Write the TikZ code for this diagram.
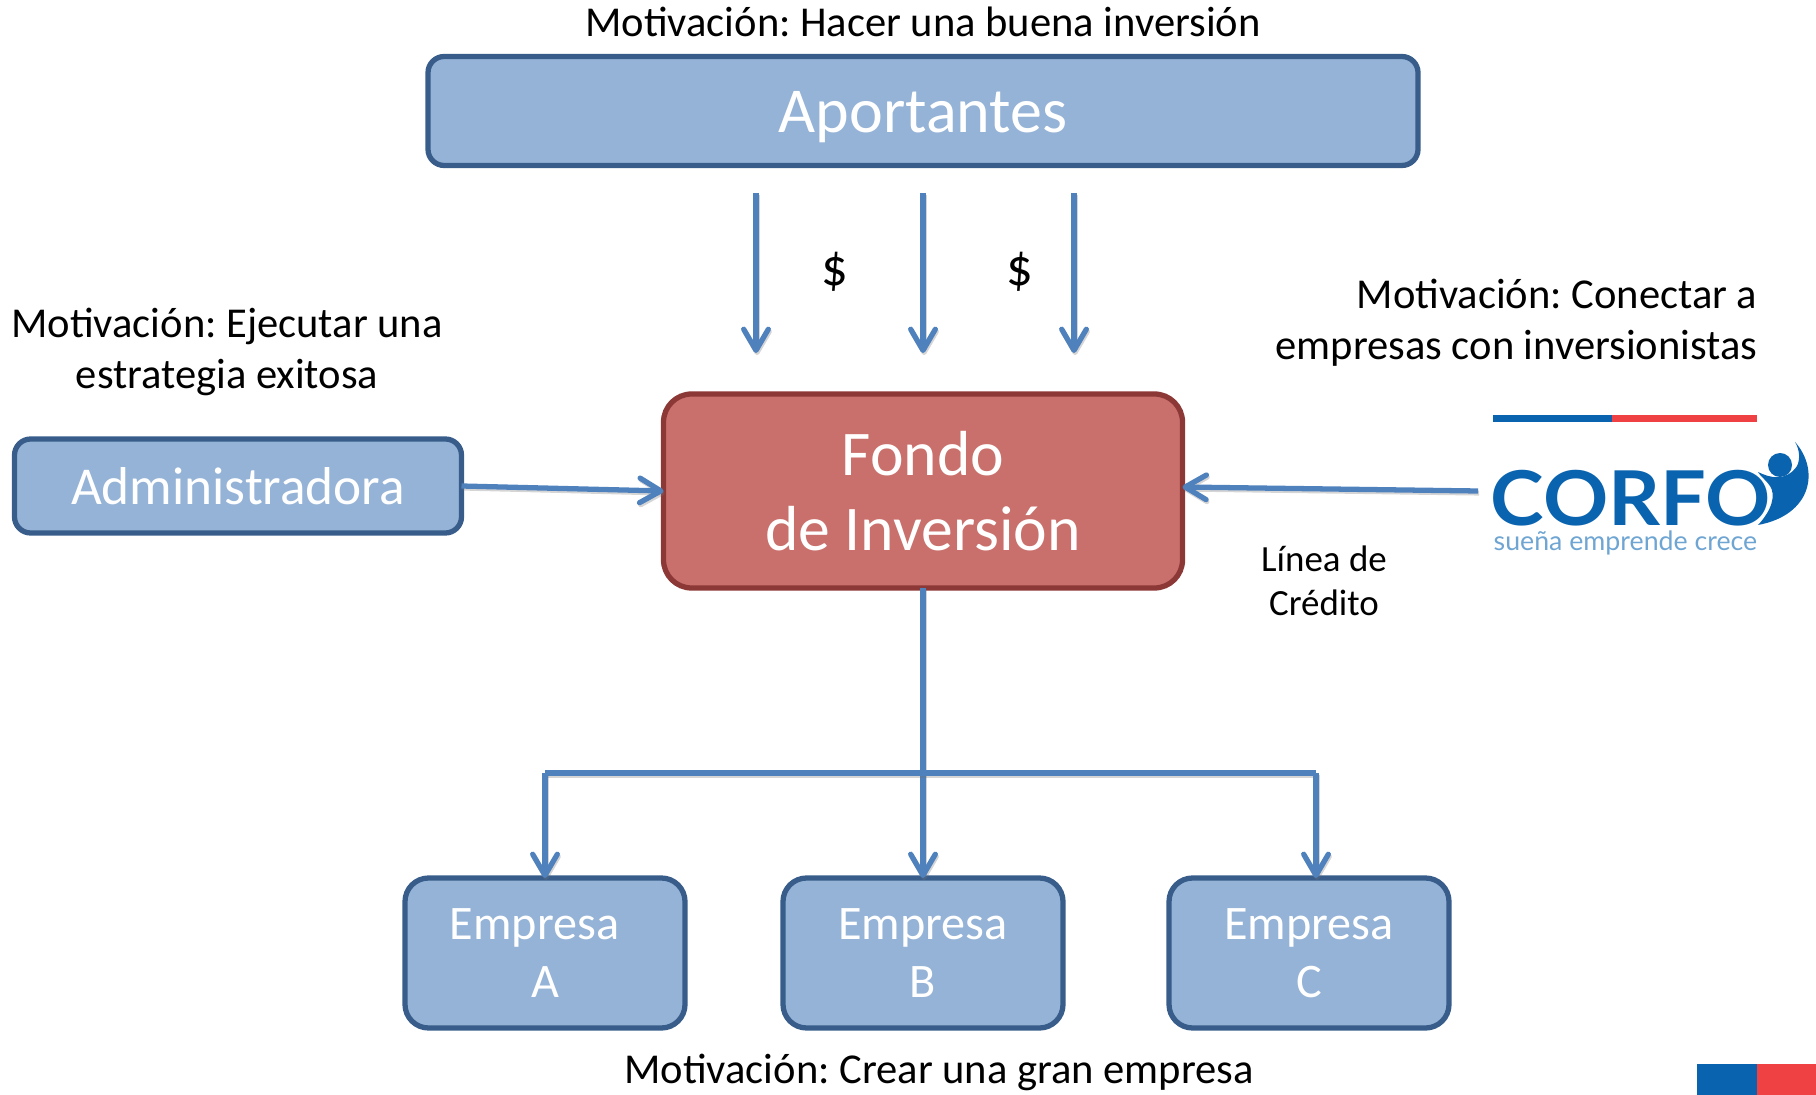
\documentclass[tikz,border=0pt]{standalone}
\usepackage{fontspec}
\setmainfont{Carlito}
\newfontfamily\logofont{Lato}
\usetikzlibrary{arrows.meta}
\usetikzlibrary{positioning}
\definecolor{cajaazul}{HTML}{95B3D7}
\definecolor{bordeazul}{HTML}{385D8A}
\definecolor{cajaroja}{HTML}{CA706C}
\definecolor{borderojo}{HTML}{8C3836}
\definecolor{flechaazul}{HTML}{4F81BD}
\definecolor{corfoazul}{HTML}{0A63AE}
\definecolor{corfoclaro}{HTML}{6FA5D2}
\definecolor{corforojo}{HTML}{EF4044}
\newlength{\pxu}
\setlength{\pxu}{0.01cm}
\frenchspacing
\tikzset{
    caja/.style={draw=bordeazul,fill=cajaazul,line width=1.5pt,rounded corners=4.6pt,outer sep=0pt,text=white,align=center,inner sep=0pt},
    cajafondo/.style={caja,draw=borderojo,fill=cajaroja,rounded corners=8pt},
    empresa/.style={caja,rounded corners=6.7pt,minimum width=280\pxu,minimum height=150\pxu,font=\fontsize{13.7}{16.4}\selectfont},
    motivo/.style={align=center,inner sep=0pt,font=\fontsize{12.1}{14.4}\selectfont},
    peso/.style={inner sep=0pt,font=\fontsize{15}{18}\selectfont},
    sombra/.style={preaction={draw=black!55,opacity=.3,line width=1.4pt,transform canvas={xshift=.3pt,yshift=-.6pt}}},
    flecha/.style={draw=flechaazul,line width=1.5pt,sombra,-{Straight Barb[length=6pt,width=7pt,round]}},
    linea/.style={draw=flechaazul,line width=1.5pt,sombra},
}
\begin{document}
\begin{tikzpicture}[x=0.01cm,y=-0.01cm]
    \useasboundingbox (0,0) rectangle (1816,1095);
    % cajas
    \node[caja,minimum width=990\pxu,minimum height=109\pxu,font=\fontsize{18.2}{22}\selectfont] (aportantes) at (923,111) {\raisebox{-6\pxu}[\height][\depth]{Aportantes}};
    \node[cajafondo,minimum width=519\pxu,minimum height=194\pxu,font=\fontsize{18.1}{21.5}\selectfont] (fondo) at (923,491) {Fondo\\de Inversión};
    \node[caja,minimum width=447\pxu,minimum height=94\pxu,font=\fontsize{15.15}{18}\selectfont] (admin) at (238,486) {Administradora};
    \node[empresa] (empresaA) at (545,953) {Empresa\hspace*{6pt}\\A};
    \node[empresa] (empresaB) at (923,953) {Empresa\\B};
    \node[empresa] (empresaC) at (1309,953) {Empresa\\C};
    % textos
    \node[motivo] (motivoA) at (923,22) {Motivación: Hacer una buena inversión};
    \node[motivo] (motivoE) at (939,1072) {Motivación: Crear una gran empresa};
    \node[motivo] (motivoF) at (227,352) {Motivación: Ejecutar una\\estrategia exitosa};
    \node[motivo,align=right,anchor=east] (motivoC) at (1758,323) {Motivación: Conectar a\\empresas con inversionistas};
    \node[peso] (pesoA) at (835,272) {\$};
    \node[peso] (pesoB) at (1020,272) {\$};
    \node[align=center,inner sep=0pt,font=\fontsize{10.5}{12.6}\selectfont] (linea) at (1324,581) {Línea de\\Crédito};
    % logo
    \fill[corfoazul] (1493,415) rectangle (1612,422);
    \fill[corforojo] (1612,415) rectangle (1757,422);
    \node[inner sep=0pt,anchor=west,text=corfoazul,xscale=1.07,transform shape,font=\logofont\bfseries\fontsize{21.5}{24}\selectfont] (corfo) at (1490,498) {CORFO};
    \node[inner sep=0pt,anchor=west,text=corfoclaro,font=\logofont\fontsize{7.6}{9}\selectfont] (suena) at (1493,543) {sueña emprende crece};
    \fill[corfoazul] (1795,442) .. controls (1820,470) and (1812,515) .. (1758,525)
        .. controls (1772,510) and (1776,495) .. (1770,486)
        .. controls (1766,480) and (1760,476) .. (1758,472)
        .. controls (1770,478) and (1786,482) .. (1797,466)
        .. controls (1800,460) and (1800,450) .. (1795,442) -- cycle;
    \fill[corfoazul] (1780,465) circle (12);
    % flechas
    \coordinate (a1) at (756,193);
    \coordinate (a2) at (923,193);
    \coordinate (a3) at (1074,193);
    \coordinate (b1) at (756,353);
    \coordinate (b2) at (923,353);
    \coordinate (b3) at (1074,353);
    \draw[flecha] (a1) -- (b1);
    \draw[flecha] (a2) -- (b2);
    \draw[flecha] (a3) -- (b3);
    \draw[flecha] (admin.east) -- (fondo.west);
    \coordinate (corfoflecha) at (1478,491);
    \draw[flecha] (corfoflecha) -- ([yshift=4\pxu]fondo.east);
    \draw[flecha] (fondo.south) -- (empresaB.north);
    \coordinate (busA) at (545,773);
    \coordinate (busC) at (1316,773);
    \draw[linea] (busA) -- (busC);
    \draw[flecha] (busA) -- (empresaA.north);
    \draw[flecha] (busC) -- (busC |- empresaC.north);
    % esquina
    \fill[corfoazul] (1697,1064) rectangle (1757,1095);
    \fill[corforojo] (1757,1064) rectangle (1816,1095);
\end{tikzpicture}
\end{document}
